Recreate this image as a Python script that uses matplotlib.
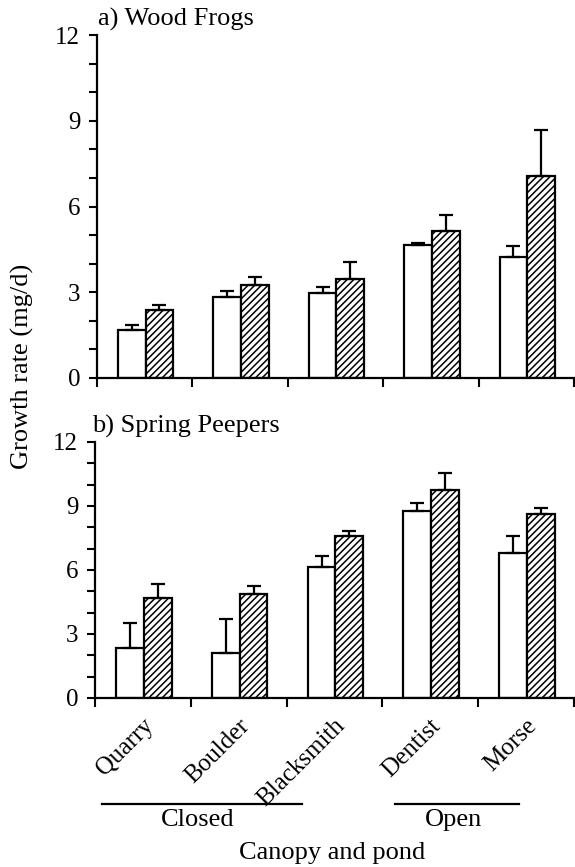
import matplotlib.pyplot as plt
import numpy as np
from matplotlib.ticker import MultipleLocator

plt.rcParams['font.family'] = ['Liberation Serif', 'DejaVu Serif']
plt.rcParams['hatch.linewidth'] = 1.1

ponds = ['Quarry', 'Boulder', 'Blacksmith', 'Dentist', 'Morse']

# a) wood frogs: white bars, hatched bars, upper errors
wood_white = [1.68, 2.85, 2.97, 4.65, 4.25]
wood_white_err = [0.17, 0.2, 0.2, 0.08, 0.38]
wood_hatch = [2.38, 3.25, 3.45, 5.14, 7.06]
wood_hatch_err = [0.17, 0.3, 0.6, 0.58, 1.61]

# b) spring peepers
peep_white = [2.35, 2.12, 6.15, 8.75, 6.81]
peep_white_err = [1.18, 1.6, 0.52, 0.38, 0.8]
peep_hatch = [4.68, 4.87, 7.58, 9.76, 8.63]
peep_hatch_err = [0.68, 0.39, 0.26, 0.78, 0.28]

W, H = 575, 867
fig = plt.figure(figsize=(W / 100, H / 100), dpi=100)
ax1 = fig.add_axes([97 / W, 1 - 378 / H, (574 - 97) / W, (378 - 35) / H])
ax2 = fig.add_axes([95 / W, 1 - 698 / H, (574 - 95) / W, (698 - 442) / H])

x = np.arange(len(ponds))
bw = 0.29
for ax, w, we, h, he in [(ax1, wood_white, wood_white_err, wood_hatch, wood_hatch_err),
                         (ax2, peep_white, peep_white_err, peep_hatch, peep_hatch_err)]:
    ax.bar(x + 0.365, w, bw, color='white', edgecolor='black', linewidth=1.6,
           yerr=[np.zeros(5), we], error_kw=dict(ecolor='black', elinewidth=1.6, capsize=5, capthick=1.6))
    ax.bar(x + 0.655, h, bw, color='white', edgecolor='black', linewidth=1.6, hatch='/////',
           yerr=[np.zeros(5), he], error_kw=dict(ecolor='black', elinewidth=1.6, capsize=5, capthick=1.6))
    ax.set_xlim(0, 5)
    ax.set_ylim(0, 12)
    ax.spines['top'].set_visible(False)
    ax.spines['right'].set_visible(False)
    ax.spines['left'].set_linewidth(1.6)
    ax.spines['bottom'].set_linewidth(1.6)
    ax.set_xticks(range(6))
    ax.set_xticklabels([])
    ax.yaxis.set_major_locator(MultipleLocator(3))
    ax.yaxis.set_minor_locator(MultipleLocator(1))
    ax.tick_params(axis='y', which='both', direction='out', length=6, width=1.5, labelsize=18, pad=6)
    ax.tick_params(axis='x', direction='out', length=6.5, width=1.5)

fig.text(98 / W, 1 - 26 / H, 'a) Wood Frogs', fontsize=19, va='baseline', ha='left')
fig.text(92 / W, 1 - 433 / H, 'b) Spring Peepers', fontsize=19, va='baseline', ha='left')

for i, p in enumerate(ponds):
    ax2.annotate(p, xy=(i + 0.5, 0), xycoords=('data', 'axes fraction'),
                 xytext=(-0.5, -12), textcoords='offset points', rotation=45,
                 ha='right', va='top', rotation_mode='anchor', fontsize=18)

groups = ['Closed', 'Open']
group_span = [(0.07, 2.16), (3.13, 4.43)]
tr = ax2.get_xaxis_transform()
for g, (a, b) in zip(groups, group_span):
    ax2.plot([a, b], [-0.414, -0.414], color='black', linewidth=1.6, transform=tr, clip_on=False)
    ax2.text((a + b) / 2 - 0.04, -0.475, g, transform=tr, ha='center', va='center', fontsize=19)

fig.text(332 / W, 1 - 853 / H, 'Canopy and pond', ha='center', va='center', fontsize=19)
fig.text(22 / W, 1 - 366 / H, 'Growth rate (mg/d)', ha='center', va='center', rotation=90, fontsize=19)

fig.savefig('out.png', dpi=100)
